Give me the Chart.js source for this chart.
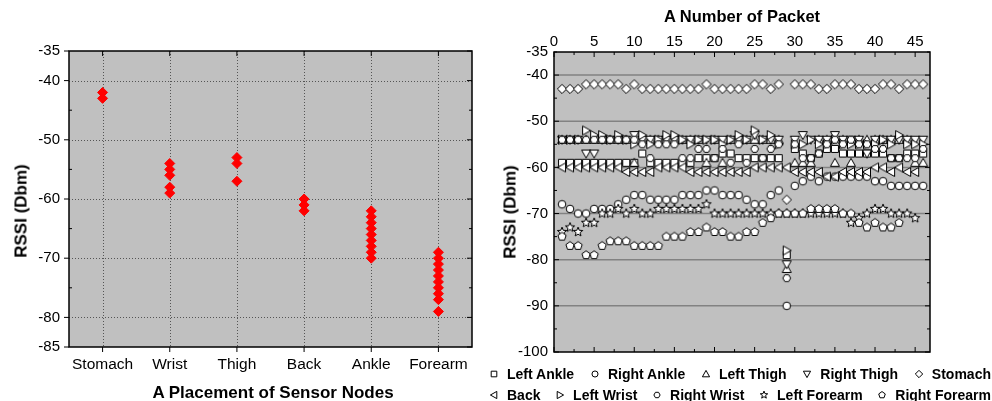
<!DOCTYPE html>
<html><head><meta charset="utf-8">
<script src="https://cdn.jsdelivr.net/npm/chart.js@4.4.1/dist/chart.umd.min.js"></script>
<style>
html,body{margin:0;padding:0;background:#fff;width:992px;height:401px;overflow:hidden;font-family:"Liberation Sans",Arial,sans-serif;color:#000;}
#left{position:absolute;left:0;top:0;}
#right{position:absolute;left:480px;top:0;}
.ttl{position:absolute;font-weight:bold;white-space:nowrap;line-height:1;transform:translate(-50%,-50%);}
.rot{transform:translate(-50%,-50%) rotate(-90deg);}
.legendRow{position:absolute;left:487px;width:504px;height:18px;display:flex;justify-content:space-between;align-items:center;font-weight:bold;font-size:14px;line-height:18px;}
.legendItem{display:flex;align-items:center;white-space:nowrap;}
.legendItem canvas{margin-right:6px;}
</style></head><body>
<canvas id="left" width="480" height="401"></canvas>
<canvas id="right" width="512" height="401"></canvas>
<div class="ttl" style="left:273px;top:392px;font-size:17px;">A Placement of Sensor Nodes</div>
<div class="ttl rot" style="left:21px;top:211px;font-size:17px;">RSSI (Dbm)</div>
<div class="ttl" style="left:742px;top:16px;font-size:16.5px;">A Number of Packet</div>
<div class="ttl rot" style="left:510px;top:212px;font-size:17px;">RSSI (Dbm)</div>
<div class="legendRow" id="leg1" style="top:365px;"></div>
<div class="legendRow" id="leg2" style="top:386px;"></div>
<script>
// ---------- Left chart data ----------
const categories = ['Stomach','Wrist','Thigh','Back','Ankle','Forearm'];
const stomachRssi = [-42,-43];
const wristRssi = [-54,-55,-56,-58,-59];
const thighRssi = [-53,-54,-57];
const backRssi = [-60,-61,-62];
const ankleRssi = [-62,-63,-64,-65,-66,-67,-68,-69,-70];
const forearmRssi = [-69,-70,-71,-72,-73,-74,-75,-76,-77,-79];
const leftYTicks = [-35,-40,-50,-60,-70,-80,-85];

// ---------- Right chart data ----------
const packetNumbers = [1,2,3,4,5,6,7,8,9,10,11,12,13,14,15,16,17,18,19,20,21,22,23,24,25,26,27,28,29,30,31,32,33,34,35,36,37,38,39,40,41,42,43,44,45,46];
const leftAnkle = [-59,-59,-59,-59,-59,-59,-59,-59,-59,-59,-57,-59,-59,-59,-59,-59,-59,-58,-58,-58,-57,-57,-58,-58,-58,-58,-58,-58,-79,-56,-57,-58,-57,-56,-56,-57,-57,-57,-57,-57,-57,-58,-58,-57,-57,-57];
const rightAnkle = [-68,-69,-70,-70,-69,-69,-69,-68,-67,-66,-66,-67,-67,-67,-67,-66,-66,-66,-65,-65,-66,-66,-66,-67,-68,-68,-66,-65,-90,-64,-63,-62,-63,-62,-62,-62,-62,-62,-62,-63,-63,-64,-64,-64,-64,-64];
const leftThigh = [-54,-54,-54,-54,-54,-54,-54,-54,-54,-59,-54,-54,-54,-54,-54,-54,-54,-54,-59,-54,-59,-54,-54,-54,-54,-54,-54,-54,-82,-59,-59,-59,-54,-54,-59,-54,-59,-54,-54,-54,-54,-54,-54,-54,-59,-59];
const rightThigh = [-54,-54,-54,-57,-57,-54,-54,-54,-54,-53,-54,-54,-54,-54,-54,-54,-54,-54,-54,-54,-54,-54,-54,-54,-53,-54,-54,-54,-81,-54,-53,-54,-54,-54,-53,-54,-54,-54,-57,-54,-54,-54,-54,-54,-54,-54];
const stomach = [-43,-43,-43,-42,-42,-42,-42,-42,-43,-42,-43,-43,-43,-43,-43,-43,-43,-43,-42,-43,-43,-43,-43,-43,-42,-42,-43,-42,-67,-42,-42,-42,-43,-43,-42,-42,-42,-43,-43,-43,-42,-42,-43,-42,-42,-42];
const back = [-60,-60,-60,-60,-60,-60,-60,-60,-61,-61,-61,-61,-60,-60,-60,-60,-61,-61,-61,-61,-61,-61,-61,-61,-60,-60,-60,-60,-60,-61,-61,-61,-61,-62,-62,-61,-61,-61,-61,-60,-60,-61,-60,-61,-61,null];
const leftWrist = [-54,-54,-54,-52,-53,-53,-54,-53,-54,-55,-53,-55,-54,-53,-53,-54,-55,-54,-54,-54,-55,-54,-53,-54,-52,-54,-53,-55,-78,-55,-55,-54,-55,-55,-54,-55,-55,-55,-55,-55,-54,-55,-53,-55,-55,-55];
const rightWrist = [-54,-54,-54,-54,-54,-54,-54,-54,-54,-54,-55,-58,-55,-55,-55,-58,-58,-56,-56,-58,-56,-59,-55,-59,-56,-58,-56,-55,-84,-55,-58,-58,-57,-55,-54,-55,-54,-55,-55,-56,-56,-58,-58,-58,-58,-56];
const leftForearm = [-74,-73,-74,-72,-72,-70,-70,-69,-70,-69,-70,-70,-69,-69,-69,-69,-69,-69,-68,-70,-70,-70,-70,-70,-70,-70,-70,-70,-70,-70,-70,-70,-70,-70,-70,-70,-72,-71,-70,-69,-69,-70,-70,-70,-71,null];
const rightForearm = [-75,-77,-77,-79,-79,-77,-76,-76,-76,-77,-77,-77,-77,-75,-75,-75,-74,-74,-73,-74,-74,-75,-75,-74,-74,-72,-71,-70,-70,-70,-70,-69,-69,-69,-69,-70,-70,-72,-73,-72,-73,-73,-72,null,null,null];
const rightXTicks = [0,5,10,15,20,25,30,35,40,45];
const rightYTicks = [-35,-40,-50,-60,-70,-80,-90,-100];
const seriesNames = ['Left Ankle','Right Ankle','Left Thigh','Right Thigh','Stomach','Back','Left Wrist','Right Wrist','Left Forearm','Right Forearm'];
const seriesValues = [leftAnkle,rightAnkle,leftThigh,rightThigh,stomach,back,leftWrist,rightWrist,leftForearm,rightForearm];
const seriesShapes = ['square','circle','triUp','triDown','diamond','triLeft','triRight','hexagon','star','pentagon'];

const FONT = '"Liberation Sans", Arial, sans-serif';

function makeMarker(shape, s) {
  const size = 14, c = document.createElement('canvas');
  c.width = size; c.height = size;
  const g = c.getContext('2d'), cx = size/2, cy = size/2;
  g.fillStyle = '#fff'; g.strokeStyle = '#000'; g.lineWidth = 1;
  g.beginPath();
  const poly = pts => { pts.forEach((p,i)=>{ const X=cx+p[0]*s, Y=cy+p[1]*s; i?g.lineTo(X,Y):g.moveTo(X,Y); }); g.closePath(); };
  const reg = (n,r,st) => { const pts=[]; for(let i=0;i<n;i++){const a=st+i*2*Math.PI/n; pts.push([r*Math.cos(a),r*Math.sin(a)]);} poly(pts); };
  switch(shape){
    case 'square': poly([[-3.5,-3.5],[3.5,-3.5],[3.5,3.5],[-3.5,3.5]]); break;
    case 'circle': g.arc(cx,cy,3.8*s,0,Math.PI*2); break;
    case 'triUp': poly([[0,-4.5],[4.5,3.5],[-4.5,3.5]]); break;
    case 'triDown': poly([[0,4.5],[4.5,-3.5],[-4.5,-3.5]]); break;
    case 'triLeft': poly([[-4.5,0],[3.5,-4.5],[3.5,4.5]]); break;
    case 'triRight': poly([[4.5,0],[-3.5,-4.5],[-3.5,4.5]]); break;
    case 'diamond': poly([[0,-4.6],[4.6,0],[0,4.6],[-4.6,0]]); break;
    case 'hexagon': reg(6,3.9,0); break;
    case 'pentagon': reg(5,4.3,-Math.PI/2); break;
    case 'star': { const pts=[]; for(let i=0;i<10;i++){const r=i%2?2.1:4.9; const a=-Math.PI/2+i*Math.PI/5; pts.push([r*Math.cos(a),r*Math.sin(a)]);} poly(pts); break; }
  }
  g.fill(); g.stroke();
  return c;
}

function line(ctx,x1,y1,x2,y2){ ctx.beginPath(); ctx.moveTo(x1,y1); ctx.lineTo(x2,y2); ctx.stroke(); }

// ---------- Left chart ----------
const leftGroups = [stomachRssi,wristRssi,thighRssi,backRssi,ankleRssi,forearmRssi];
const leftPoints = [];
leftGroups.forEach((vals,i)=>vals.forEach(v=>leftPoints.push({x:categories[i], y:v})));

const leftPlugin = {
  id:'leftFrame',
  beforeDraw(chart){
    const {ctx, chartArea:a} = chart;
    ctx.save(); ctx.fillStyle='#c0c0c0'; ctx.fillRect(a.left,a.top,a.right-a.left,a.bottom-a.top); ctx.restore();
  },
  beforeDatasetsDraw(chart){
    const {ctx, chartArea:a, scales:{x,y}} = chart;
    ctx.save(); ctx.strokeStyle='#555'; ctx.lineWidth=1; ctx.setLineDash([1,2]);
    leftYTicks.forEach(v=>{ if(v>y.min && v<y.max){ const p=Math.round(y.getPixelForValue(v))+0.5; line(ctx,a.left,p,a.right,p);} });
    categories.forEach((c,i)=>{ const p=Math.round(x.getPixelForValue(i))+0.5; line(ctx,p,a.top,p,a.bottom); });
    ctx.restore();
  },
  afterDatasetsDraw(chart){
    const {ctx, chartArea:a, scales:{x,y}} = chart;
    ctx.save(); ctx.strokeStyle='#000'; ctx.lineWidth=1.5;
    ctx.strokeRect(a.left,a.top,a.right-a.left,a.bottom-a.top);
    ctx.lineWidth=1;
    for(let v=y.min; v<=y.max; v+=5){
      const p=y.getPixelForValue(v);
      const major = leftYTicks.includes(v);
      if(major){ line(ctx,a.left-5,p,a.left,p); line(ctx,a.right-5,p,a.right,p); }
      else { line(ctx,a.left,p,a.left+3,p); line(ctx,a.right-3,p,a.right,p); }
    }
    categories.forEach((c,i)=>{ const p=x.getPixelForValue(i); line(ctx,p,a.bottom,p,a.bottom+5); line(ctx,p,a.top,p,a.top+5); });
    ctx.restore();
  }
};

new Chart(document.getElementById('left'), {
  type:'scatter',
  data:{ labels:categories, datasets:[{ data:leftPoints, pointStyle:'rectRot', pointRadius:5, backgroundColor:'#ff0000', borderColor:'#ff0000', borderWidth:1 }] },
  options:{
    responsive:false, animation:false, events:[],
    layout:{ padding:{left:0,right:8,top:51,bottom:0} },
    plugins:{ legend:{display:false}, tooltip:{enabled:false} },
    scales:{
      x:{ type:'category', labels:categories, offset:true,
          grid:{display:false, drawTicks:false, offset:false}, border:{display:false},
          ticks:{ color:'#000', font:{family:FONT,size:15.5}, padding:8, autoSkip:false, maxRotation:0 },
          afterFit:s=>{ s.height=54; } },
      y:{ type:'linear', min:-85, max:-35,
          grid:{display:false, drawTicks:false}, border:{display:false},
          afterBuildTicks:s=>{ s.ticks = leftYTicks.map(v=>({value:v})); },
          ticks:{ color:'#000', font:{family:FONT,size:15}, padding:9, autoSkip:false, callback:v=>String(v) },
          afterFit:s=>{ s.width=69; } }
    }
  },
  plugins:[leftPlugin]
});

// ---------- Right chart ----------
const markers = seriesShapes.map(sh=>makeMarker(sh,1));
const rightDatasets = seriesNames.map((name,i)=>{
  const pts=[];
  seriesValues[i].forEach((v,j)=>{ if(v!==null) pts.push({x:packetNumbers[j], y:v}); });
  return { label:name, data:pts, pointStyle:markers[i], pointRadius:5, order:seriesNames.length-i };
});

const rightPlugin = {
  id:'rightFrame',
  beforeDraw(chart){
    const {ctx, chartArea:a} = chart;
    ctx.save(); ctx.fillStyle='#c0c0c0'; ctx.fillRect(a.left,a.top,a.right-a.left,a.bottom-a.top); ctx.restore();
  },
  beforeDatasetsDraw(chart){
    const {ctx, chartArea:a, scales:{y}} = chart;
    ctx.save(); ctx.strokeStyle='#828282'; ctx.lineWidth=1.5;
    rightYTicks.forEach(v=>{ if(v>y.min && v<y.max){ const p=y.getPixelForValue(v); line(ctx,a.left,p,a.right,p);} });
    ctx.restore();
  },
  afterDatasetsDraw(chart){
    const {ctx, chartArea:a, scales:{x,y}} = chart;
    ctx.save(); ctx.strokeStyle='#000'; ctx.lineWidth=1.5;
    ctx.strokeRect(a.left,a.top,a.right-a.left,a.bottom-a.top);
    ctx.lineWidth=1;
    for(let v=y.min; v<=y.max; v+=5){
      const p=y.getPixelForValue(v); const L = (v%10===0)?5:3;
      line(ctx,a.left,p,a.left+L,p); line(ctx,a.right-L,p,a.right,p);
    }
    for(let v=x.min; v<=x.max; v+=2.5){
      const p=x.getPixelForValue(v); const L = (v%5===0)?5:3;
      line(ctx,p,a.bottom-L,p,a.bottom); line(ctx,p,a.top,p,a.top+L);
    }
    ctx.restore();
  }
};

new Chart(document.getElementById('right'), {
  type:'scatter',
  data:{ datasets:rightDatasets },
  options:{
    responsive:false, animation:false, events:[],
    layout:{ padding:{left:0,right:62,top:0,bottom:49} },
    plugins:{ legend:{display:false}, tooltip:{enabled:false} },
    scales:{
      x:{ type:'linear', position:'top', min:0, max:46.85,
          grid:{display:false, drawTicks:false}, border:{display:false},
          afterBuildTicks:s=>{ s.ticks = rightXTicks.map(v=>({value:v})); },
          ticks:{ color:'#000', font:{family:FONT,size:15}, padding:1, autoSkip:false, maxRotation:0, callback:v=>String(v) },
          afterFit:s=>{ s.height=52; } },
      y:{ type:'linear', min:-100, max:-35,
          grid:{display:false, drawTicks:false}, border:{display:false},
          afterBuildTicks:s=>{ s.ticks = rightYTicks.map(v=>({value:v})); },
          ticks:{ color:'#000', font:{family:FONT,size:15}, padding:6, autoSkip:false, callback:v=>String(v) },
          afterFit:s=>{ s.width=74; } }
    }
  },
  plugins:[rightPlugin]
});

// ---------- HTML legend ----------
[[0,1,2,3,4],[5,6,7,8,9]].forEach((row,r)=>{
  const el = document.getElementById(r?'leg2':'leg1');
  row.forEach(i=>{
    const item = document.createElement('span'); item.className='legendItem';
    const m = makeMarker(seriesShapes[i],0.8);
    item.appendChild(m);
    item.appendChild(document.createTextNode(seriesNames[i]));
    el.appendChild(item);
  });
});
</script>
</body></html>
